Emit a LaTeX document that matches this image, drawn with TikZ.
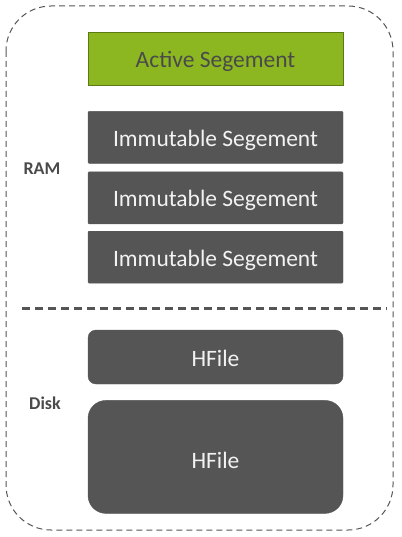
\documentclass[tikz,border=0pt]{standalone}
\usepackage{fontspec}
\setmainfont{Carlito}
\usetikzlibrary{positioning}
\definecolor{segGray}{HTML}{555555}
\definecolor{segGreen}{HTML}{8DB721}
\definecolor{segGreenDark}{HTML}{5C7A12}
\definecolor{labelGray}{HTML}{4A4A4A}

\begin{document}
\begin{tikzpicture}[x=1pt,y=-1pt,
        seg/.style={draw=segGray, fill=segGray, text=white!95!black, minimum width=255pt, minimum height=52pt, inner sep=0pt, text height=18pt, text depth=0pt, rounded corners=1pt, font=\fontsize{23.5}{28}\selectfont},
        active/.style={seg, draw=segGreenDark, fill=segGreen, text=labelGray, minimum height=53pt, rounded corners=0pt},
        hfile/.style={seg, rounded corners=8pt, minimum height=54pt},
        area/.style={text=labelGray, font=\bfseries\fontsize{18}{21}\selectfont},
        node distance=8pt]
        \useasboundingbox (0,0) rectangle (401,537);
        \draw[segGray, line width=1pt, dash pattern=on 6pt off 4pt, rounded corners=45pt] (6,6) rectangle (393,530);
        \node[active] (active) at (215.5,58.5) {Active Segement};
        \node[seg, below=26pt of active] (imm1) {Immutable Segement};
        \node[seg, below=of imm1] (imm2) {Immutable Segement};
        \node[seg, below=7pt of imm2] (imm3) {Immutable Segement};
        \draw[segGray, line width=3pt, dash pattern=on 8pt off 5pt] (22,308) -- (387,308);
        \node[hfile] (hfile1) at (215.5,357) {HFile};
        \node[hfile, below=16pt of hfile1, minimum height=113pt, rounded corners=18pt, text height=24pt] (hfile2) {HFile};
        \node[area] (ram) at (42,169) {RAM};
        \node[area] (disk) at (45,403) {Disk};
    \end{tikzpicture}
\end{document}
